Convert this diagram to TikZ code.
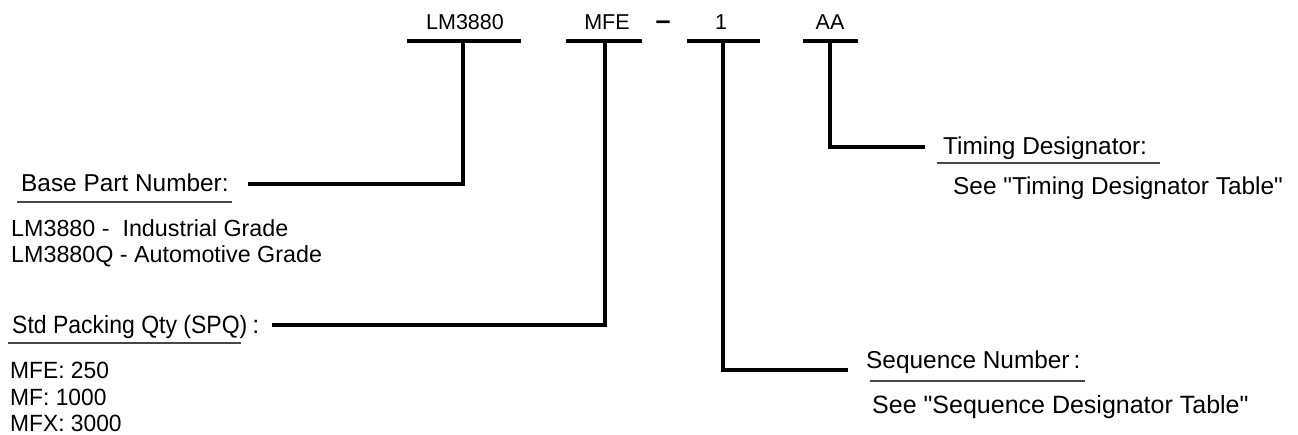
\documentclass[tikz,border=0pt]{standalone}
\usepackage{fontspec}
\setmainfont{Liberation Sans}[Ligatures=TeXOff]
\begin{document}
\begin{tikzpicture}[x=1pt,y=-1pt,
  top/.style={font=\fontsize{21.5}{24}\selectfont, inner sep=0pt, anchor=base},
  lbl/.style={font=\fontsize{24.4}{26}\selectfont, inner sep=0pt, anchor=base west},
  txt/.style={font=\fontsize{23.3}{26}\selectfont, inner sep=0pt, anchor=base west},
  bar/.style={line width=4pt},
  conn/.style={line width=4pt},
  uline/.style={line width=1.6pt, draw=black!72}]
\useasboundingbox (0,0) rectangle (1298,435);
% top labels
\node[top] (lm) at (465,30) {LM3880};
\node[top] (mfe) at (607,30) {MFE};
\node[top, font=\fontsize{27}{28}\selectfont] (dash) at (663,30) {\textbf{–}};
\node[top] (one) at (721,30) {1};
\node[top] (aa) at (830,30) {AA};
% bars
\coordinate (lmL) at (407,41); \coordinate (lmR) at (521,41);
\coordinate (mfL) at (566,41); \coordinate (mfR) at (642,41);
\coordinate (onL) at (687,41); \coordinate (onR) at (760,41);
\coordinate (aaL) at (803,41); \coordinate (aaR) at (858,41);
\draw[bar] (lmL) -- (lmR);
\draw[bar] (mfL) -- (mfR);
\draw[bar] (onL) -- (onR);
\draw[bar] (aaL) -- (aaR);
% junctions
\coordinate (lmT) at (463,41);
\coordinate (mfT) at (605,41);
\coordinate (onT) at (723,41);
\coordinate (aaT) at (830,41);
% base part number
\node[lbl] (base) at (21,192) {Base Part Number:};
\draw[uline] (17,202) coordinate (bu1) -- (232,202) coordinate (bu2);
\node[txt] (base1) at (11,237) {LM3880 -\ \ Industrial Grade};
\node[txt] (base2) at (11,263) {LM3880Q - Automotive Grade};
% SPQ
\node[lbl, font=\fontsize{25}{26}\selectfont] (spq) at (12,334) {\scalebox{0.92}[1]{Std Packing Qty (SPQ)}\hspace{5pt}:};
\draw[uline] (8,343) coordinate (su1) -- (241,343) coordinate (su2);
\node[txt, font=\fontsize{23.5}{26}\selectfont] (spq1) at (10,378) {\scalebox{0.97}[1]{MFE: 250}};
\node[txt, font=\fontsize{23.5}{26}\selectfont] (spq2) at (10,405) {\scalebox{0.97}[1]{MF: 1000}};
\node[txt, font=\fontsize{23.5}{26}\selectfont] (spq3) at (10,431) {\scalebox{0.97}[1]{MFX: 3000}};
% timing
\node[lbl] (tim) at (943,155) {Timing Designator:};
\draw[uline] (937,163) coordinate (tu1) -- (1160,163) coordinate (tu2);
\node[txt, font=\fontsize{24.4}{26}\selectfont] (timtxt) at (953,195) {See "Timing Designator Table"};
% sequence
\node[lbl] (seq) at (866,369) {Sequence Number\hspace{4pt}:};
\draw[uline] (870,381) coordinate (qu1) -- (1085,381) coordinate (qu2);
\node[txt, font=\fontsize{25}{26}\selectfont] (seqtxt) at (872,413) {See "Sequence Designator Table"};
% connector ends
\coordinate (baseE) at (248,184);
\coordinate (spqE) at (272,325);
\coordinate (seqE) at (848,370);
\coordinate (timE) at (925,147);
\draw[conn] (lmT) |- (baseE);
\draw[conn] (mfT) |- (spqE);
\draw[conn] (onT) |- (seqE);
\draw[conn] (aaT) |- (timE);
\end{tikzpicture}
\end{document}
